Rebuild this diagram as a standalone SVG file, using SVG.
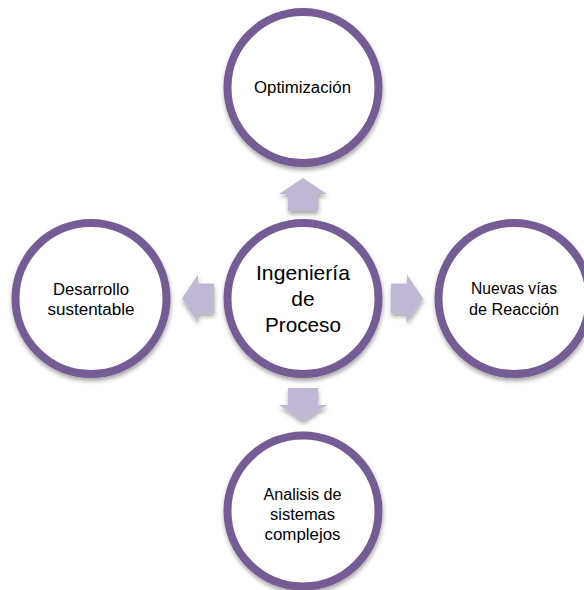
<svg xmlns="http://www.w3.org/2000/svg" width="584" height="590" viewBox="0 0 584 590">
  <defs>
    <filter id="sh" x="-20%" y="-20%" width="140%" height="140%">
      <feDropShadow dx="0.5" dy="3" stdDeviation="2.2" flood-color="#000" flood-opacity="0.35"/>
    </filter>
  </defs>
  <style>
    .node circle { fill: #ffffff; stroke: #765b95; stroke-width: 8; filter: url(#sh); }
    .arrow { fill: #bfb7d3; filter: url(#sh); }
    text { font-family: "Liberation Sans", Arial, sans-serif; fill: #000; text-anchor: middle; }
    .s { font-size: 16px; }
    .l { font-size: 21px; }
  </style>
  <rect width="584" height="590" fill="#ffffff"/>
  <g id="connectors">
    <polygon class="arrow" points="303,178 327,194 318,194 318,211 288,211 288,194 279,194"/>
    <polygon class="arrow" points="303,421 327,405 318,405 318,388 288,388 288,405 279,405"/>
    <polygon class="arrow" points="182,298.5 198,274.5 198,283.5 214,283.5 214,313.5 198,313.5 198,322.5"/>
    <polygon class="arrow" points="423,298.5 407,274.5 407,283.5 391,283.5 391,313.5 407,313.5 407,322.5"/>
  </g>
  <g id="node-optimizacion" class="node">
    <circle cx="303" cy="87.5" r="75.5"/>
    <text class="s" x="302.5" y="92.5" textLength="97" lengthAdjust="spacingAndGlyphs">Optimización</text>
  </g>
  <g id="node-ingenieria" class="node">
    <circle cx="303" cy="298.5" r="75.5"/>
    <text class="l" x="303" y="279.5" textLength="94" lengthAdjust="spacingAndGlyphs">Ingeniería</text>
    <text class="l" x="303" y="305.5">de</text>
    <text class="l" x="303" y="331.5" textLength="76" lengthAdjust="spacingAndGlyphs">Proceso</text>
  </g>
  <g id="node-desarrollo" class="node">
    <circle cx="91" cy="298.5" r="75.5"/>
    <text class="s" x="91" y="294.5" textLength="76" lengthAdjust="spacingAndGlyphs">Desarrollo</text>
    <text class="s" x="91" y="315" textLength="87" lengthAdjust="spacingAndGlyphs">sustentable</text>
  </g>
  <g id="node-nuevas" class="node">
    <circle cx="514" cy="298.5" r="75.5"/>
    <text class="s" x="514" y="293.5" textLength="86" lengthAdjust="spacingAndGlyphs">Nuevas vías</text>
    <text class="s" x="514" y="314.5" textLength="90" lengthAdjust="spacingAndGlyphs">de Reacción</text>
  </g>
  <g id="node-analisis" class="node">
    <circle cx="303" cy="511" r="75.5"/>
    <text class="s" x="302.5" y="500" textLength="78" lengthAdjust="spacingAndGlyphs">Analisis de</text>
    <text class="s" x="302.5" y="520" textLength="65" lengthAdjust="spacingAndGlyphs">sistemas</text>
    <text class="s" x="302.5" y="540" textLength="76" lengthAdjust="spacingAndGlyphs">complejos</text>
  </g>
</svg>
